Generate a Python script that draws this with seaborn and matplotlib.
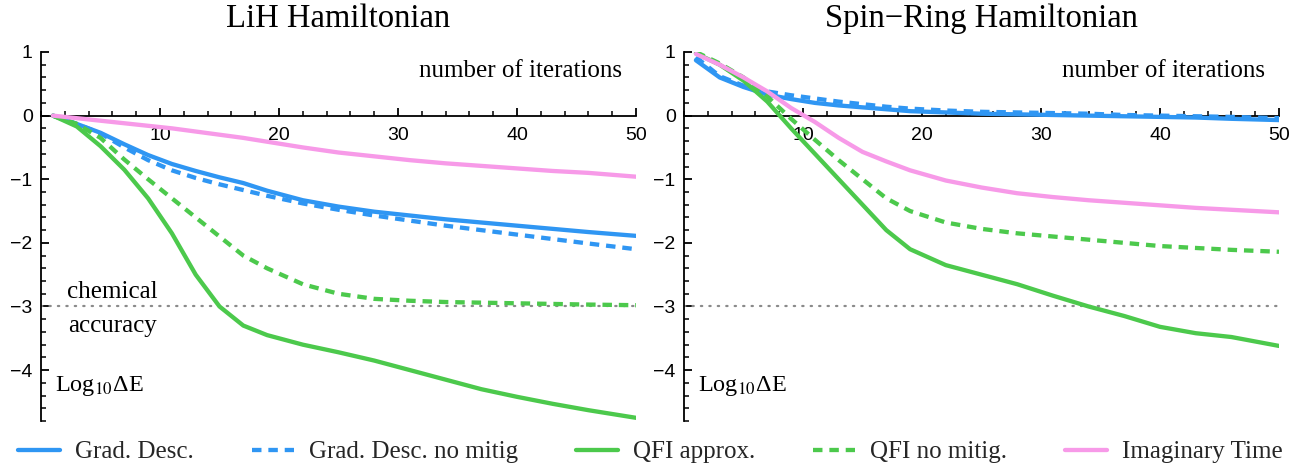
import numpy as np
import pandas as pd
import matplotlib
matplotlib.use("Agg")
import matplotlib.pyplot as plt
from matplotlib.ticker import MultipleLocator, FixedLocator
from matplotlib.lines import Line2D
import seaborn as sns

sns.set_theme(style="white")
plt.rcParams["font.family"] = ["Liberation Sans", "DejaVu Sans"]
plt.rcParams["axes.unicode_minus"] = True

# ---------------- data ----------------
iterations = [1, 3, 5, 7, 9, 11, 13, 15, 17, 19, 22, 25, 28, 31, 34, 37, 40, 43, 46, 50]

methods = ["Grad. Desc.", "Grad. Desc. no mitig", "QFI approx.", "QFI no mitig.", "Imaginary Time"]

lih_grad = [0, -0.13, -0.27, -0.45, -0.62, -0.76, -0.87, -0.97, -1.06, -1.18, -1.33, -1.43,
            -1.51, -1.57, -1.63, -1.68, -1.73, -1.78, -1.83, -1.89]
lih_grad_nomit = [0, -0.13, -0.28, -0.50, -0.70, -0.86, -0.98, -1.08, -1.17, -1.26, -1.38, -1.48,
                  -1.57, -1.65, -1.73, -1.80, -1.87, -1.94, -2.01, -2.10]
lih_qfi = [0, -0.17, -0.48, -0.85, -1.30, -1.85, -2.50, -3.00, -3.30, -3.45, -3.60, -3.72,
           -3.85, -4.00, -4.15, -4.30, -4.42, -4.53, -4.63, -4.75]
lih_qfi_nomit = [0, -0.13, -0.35, -0.69, -1.00, -1.30, -1.60, -1.90, -2.20, -2.40, -2.65, -2.80,
                 -2.88, -2.91, -2.93, -2.94, -2.95, -2.96, -2.97, -2.98]
lih_imag = [0, -0.04, -0.08, -0.12, -0.16, -0.20, -0.25, -0.30, -0.35, -0.41, -0.50, -0.58,
            -0.64, -0.70, -0.75, -0.79, -0.83, -0.87, -0.90, -0.96]

spin_grad = [0.87, 0.60, 0.45, 0.33, 0.26, 0.20, 0.16, 0.13, 0.10, 0.07, 0.05, 0.03,
             0.02, 0.01, 0.00, -0.01, -0.02, -0.03, -0.05, -0.07]
spin_grad_nomit = [0.92, 0.62, 0.47, 0.38, 0.32, 0.27, 0.22, 0.18, 0.14, 0.11, 0.08, 0.06,
                   0.05, 0.04, 0.03, 0.01, 0.00, -0.01, -0.02, -0.04]
spin_qfi = [0.98, 0.80, 0.55, 0.22, -0.20, -0.60, -1.00, -1.40, -1.80, -2.10, -2.35, -2.50,
            -2.65, -2.83, -3.00, -3.15, -3.32, -3.42, -3.48, -3.62]
spin_qfi_nomit = [1.00, 0.82, 0.60, 0.30, -0.05, -0.38, -0.70, -1.00, -1.30, -1.50, -1.68, -1.78,
                  -1.85, -1.90, -1.95, -2.00, -2.05, -2.08, -2.11, -2.14]
spin_imag = [0.97, 0.80, 0.60, 0.38, 0.12, -0.10, -0.35, -0.57, -0.72, -0.86, -1.02, -1.13,
             -1.22, -1.28, -1.33, -1.37, -1.41, -1.45, -1.48, -1.52]

panel_titles = ["LiH Hamiltonian", "Spin\u2212Ring Hamiltonian"]
x_ticks = [10, 20, 30, 40, 50]
y_ticks = [-4, -3, -2, -1, 0, 1]
chem_accuracy = -3

# ---------------- styling ----------------
colors = ["#2F96F3", "#2F96F3", "#4CC94C", "#4CC94C", "#F79AE8"]
dashed = [False, True, False, True, False]
LW = 3.1
DASH = (2.2, 1.6)
serif = ["Liberation Serif", "DejaVu Serif"]
TXT = 18

fig = plt.figure(figsize=(13.01, 4.66), dpi=100)
W, H = 1301, 466
axes_px = [(41, 636), (684, 1279)]
top_px, bot_px = 52, 421
ylim = (-4.8, 1.0)

panels = [
    [lih_grad, lih_grad_nomit, lih_qfi, lih_qfi_nomit, lih_imag],
    [spin_grad, spin_grad_nomit, spin_qfi, spin_qfi_nomit, spin_imag],
]

for p, (series, (x0, x1)) in enumerate(zip(panels, axes_px)):
    ax = fig.add_axes([x0 / W, 1 - bot_px / H, (x1 - x0) / W, (bot_px - top_px) / H])
    ax.set_facecolor("none")
    df = pd.DataFrame({"iter": iterations})
    for name, vals in zip(methods, series):
        df[name] = vals
    ax.axhline(chem_accuracy, color="#8a8a8a", lw=1.6, ls=(0, (0.6, 3.2)),
               dash_capstyle="round", zorder=1)
    for name, c, d in zip(methods, colors, dashed):
        sns.lineplot(data=df, x="iter", y=name, ax=ax, color=c, lw=LW,
                     legend=False, zorder=3)
        if d:
            ax.lines[-1].set_dashes(DASH)
    ax.set_xlim(0, 50)
    ax.set_ylim(*ylim)
    ax.set_xlabel("")
    ax.set_ylabel("")
    for s in ["top", "right"]:
        ax.spines[s].set_visible(False)
    ax.spines["left"].set_position(("data", 0))
    ax.spines["bottom"].set_position(("data", 0))
    for s in ["left", "bottom"]:
        ax.spines[s].set_color("black")
        ax.spines[s].set_linewidth(1.3)
        ax.spines[s].set_zorder(2)
    ax.xaxis.set_major_locator(FixedLocator(x_ticks))
    ax.xaxis.set_minor_locator(MultipleLocator(2))
    ax.yaxis.set_major_locator(FixedLocator(y_ticks))
    ax.yaxis.set_minor_locator(MultipleLocator(0.2))
    ax.set_xticklabels([str(t) for t in x_ticks])
    ax.set_yticklabels([str(t).replace("-", "\u2212") for t in y_ticks])
    ax.tick_params(which="major", direction="in", length=6, width=1.3, colors="black",
                   labelsize=14, bottom=True, left=True)
    ax.tick_params(which="minor", direction="in", length=3.5, width=1.1, colors="black",
                   bottom=True, left=True)
    ax.tick_params(axis="x", which="major", pad=8)
    ax.tick_params(axis="y", which="major", pad=6)
    ax.grid(False)

    fig.text((x0 + x1) / 2 / W, 1 - 19 / H, panel_titles[p], family=serif, fontsize=23.5,
             ha="center", va="center", color="black")
    ax.text(48.8, 0.70, "number of iterations", family=serif, fontsize=TXT,
            ha="right", va="center", color="black")
    ax.text(1.2, -4.25, "Log$_{10}$\u0394E", family=serif, fontsize=17.5,
            ha="left", va="center", color="black", math_fontfamily="stix")
    if p == 0:
        ax.text(6.0, -2.77, "chemical", family=serif, fontsize=TXT,
                ha="center", va="center", color="black")
        ax.text(6.0, -3.31, "accuracy", family=serif, fontsize=TXT,
                ha="center", va="center", color="black")

handles = []
for name, c, d in zip(methods, colors, dashed):
    h = Line2D([], [], color=c, lw=LW)
    if d:
        h.set_dashes(DASH)
    handles.append(h)
leg = fig.legend(handles, methods, loc="center", bbox_to_anchor=(0.5, 1 - 452 / H), ncol=5,
                 frameon=False, prop={"family": serif, "size": TXT},
                 handlelength=1.7, handletextpad=0.6, columnspacing=2.3)

fig.savefig("out.png", dpi=100)
